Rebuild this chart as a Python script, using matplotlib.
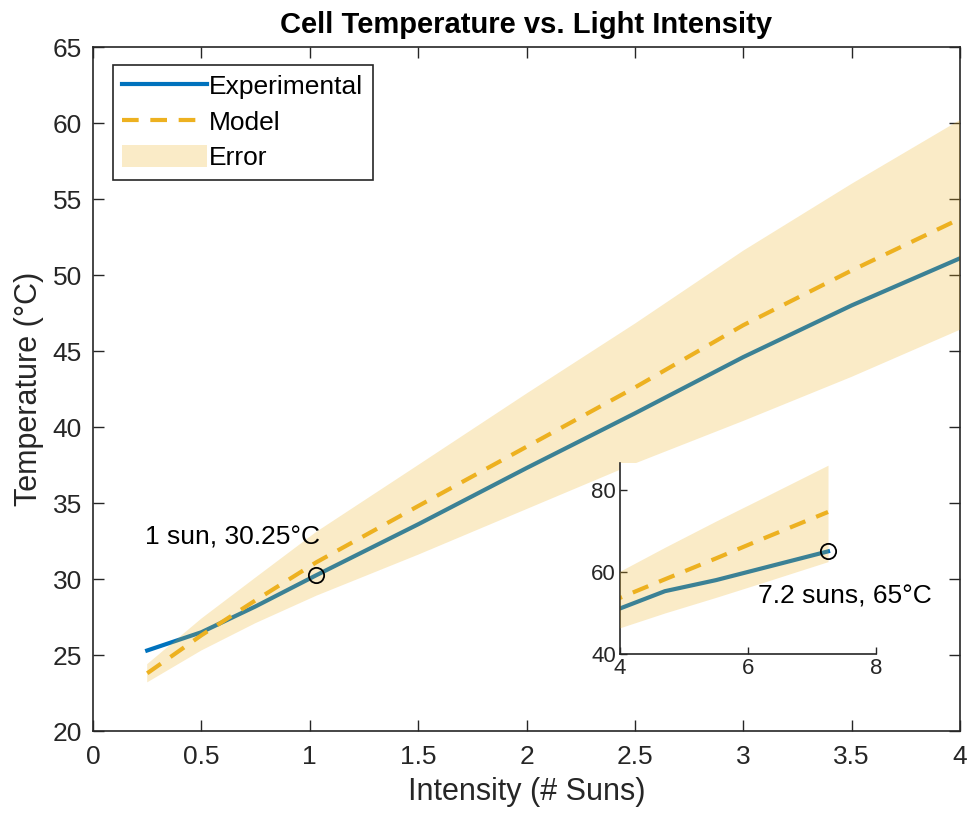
import matplotlib
matplotlib.use('Agg')
import matplotlib.pyplot as plt
from matplotlib.patches import Patch
from matplotlib.lines import Line2D

plt.rcParams['font.family'] = ['Liberation Sans', 'DejaVu Sans']

# data
intensity = [0.25, 0.5, 0.75, 1.03, 1.5, 2.0, 2.5, 3.0, 3.5, 4.0, 4.7, 5.5, 6.25, 7.25]
temp_exp = [25.3, 26.5, 28.2, 30.25, 33.6, 37.3, 40.9, 44.6, 48.0, 51.1, 55.3, 58.0, 61.0, 65.0]
temp_model = [23.8, 26.3, 28.6, 31.1, 34.8, 38.7, 42.6, 46.7, 50.3, 53.7, 58.2, 63.3, 68.2, 74.6]
err_upper = [24.4, 27.4, 30.1, 33.1, 37.5, 42.2, 46.8, 51.6, 56.0, 60.2, 66.0, 72.4, 78.2, 86.0]
err_lower = [23.2, 25.3, 27.1, 28.9, 31.6, 34.6, 37.6, 40.4, 43.3, 46.4, 50.0, 53.8, 57.5, 62.5]

one_sun = (1.03, 30.25)
max_pt = (7.25, 65.0)

blue = '#0072BD'
gold = '#EDB120'
dark = '#262626'

fig = plt.figure(figsize=(9.69, 8.19), dpi=100)
ax = fig.add_axes([0.096, 0.1074, 0.8947, 0.8352])

ax.plot(intensity, temp_exp, color=blue, lw=3, zorder=2)
ax.plot(intensity, temp_model, color=gold, lw=3, dashes=(4, 2.8), zorder=2)
# MATLAB draws the error patch over the lines
ax.fill_between(intensity, err_lower, err_upper, color=gold, alpha=0.25, linewidth=0, zorder=3)
ax.plot(*one_sun, 'o', mfc='none', mec='black', ms=11, mew=1.3, zorder=4)
ax.text(0.24, 32.76, '1 sun, 30.25°C', fontsize=19, va='center', ha='left')

ax.set_xlim(0, 4)
ax.set_ylim(20, 65)
ax.set_xticks([0, 0.5, 1, 1.5, 2, 2.5, 3, 3.5, 4])
ax.set_xticklabels(['0', '0.5', '1', '1.5', '2', '2.5', '3', '3.5', '4'])
ax.set_yticks(range(20, 66, 5))
ax.tick_params(direction='in', length=8, width=1, colors=dark, labelsize=19,
               top=True, right=True, pad=10)
ax.tick_params(axis='y', pad=8)
for s in ax.spines.values():
    s.set_color(dark)
    s.set_linewidth(1.2)
ax.set_xlabel('Intensity (# Suns)', fontsize=22, color=dark, labelpad=6)
ax.set_ylabel('Temperature (°C)', fontsize=22, color=dark, labelpad=6)
ax.set_title('Cell Temperature vs. Light Intensity', fontsize=21, fontweight='bold', pad=10)

handles = [Line2D([], [], color=blue, lw=3),
           Line2D([], [], color=gold, lw=3, dashes=(4, 2.8)),
           Patch(facecolor=gold, alpha=0.25, edgecolor='none')]
leg = ax.legend(handles, ['Experimental', 'Model', 'Error'], loc='upper left',
                bbox_to_anchor=(0.023, 0.974), borderaxespad=0, fontsize=19,
                fancybox=False, framealpha=1, edgecolor=dark, handlelength=3.2,
                handleheight=0.9, handletextpad=0.1, labelspacing=0.4, borderpad=0.35)
leg.get_frame().set_linewidth(1.2)

# inset
axi = fig.add_axes([0.640, 0.2015, 0.264, 0.233])
axi.plot(intensity, temp_exp, color=blue, lw=3, zorder=2)
axi.plot(intensity, temp_model, color=gold, lw=3, dashes=(4, 2.8), zorder=2)
axi.fill_between(intensity, err_lower, err_upper, color=gold, alpha=0.25, linewidth=0, zorder=3)
axi.plot(*max_pt, 'o', mfc='none', mec='black', ms=11, mew=1.3, zorder=4)
axi.text(6.16, 53.9, '7.2 suns, 65°C', fontsize=19, va='center', ha='left')
axi.set_xlim(4, 8)
axi.set_ylim(40, 86.5)
axi.set_xticks([4, 6, 8])
axi.set_yticks([40, 60, 80])
axi.spines['top'].set_visible(False)
axi.spines['right'].set_visible(False)
for s in ['left', 'bottom']:
    axi.spines[s].set_color(dark)
    axi.spines[s].set_linewidth(1.2)
axi.tick_params(direction='in', length=5, width=1, colors=dark, labelsize=16, pad=3)

fig.savefig('out.png', dpi=100)
